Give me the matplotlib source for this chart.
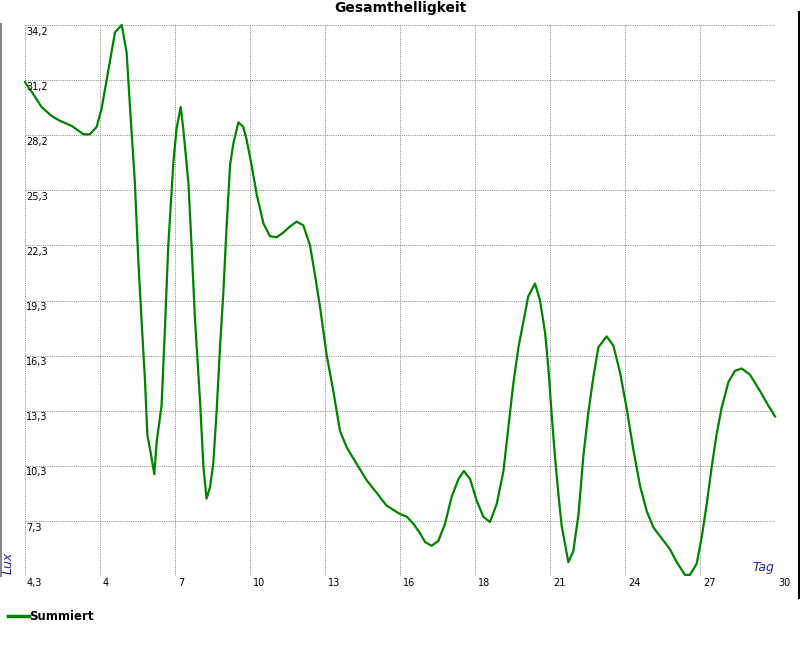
import numpy as np
import matplotlib
matplotlib.use("Agg")
import matplotlib.pyplot as plt
from matplotlib.lines import Line2D

day = [1.0, 1.32, 1.64, 2.03, 2.35, 2.80, 3.26, 3.51, 3.77, 3.96, 4.22, 4.48, 4.74,
       4.93, 5.06, 5.25, 5.38, 5.51, 5.64, 5.73, 5.86, 6.0, 6.09, 6.28, 6.41, 6.54,
       6.74, 6.86, 7.02, 7.12, 7.32, 7.44, 7.57, 7.77, 7.9, 8.02, 8.15, 8.28, 8.41,
       8.54, 8.67, 8.8, 8.93, 9.06, 9.25, 9.44, 9.57, 9.76, 9.96, 10.22, 10.47, 10.73,
       10.99, 11.25, 11.5, 11.76, 12.02, 12.21, 12.41, 12.66, 12.92, 13.18, 13.44,
       13.82, 14.21, 14.6, 14.98, 15.5, 15.76, 16.02, 16.27, 16.47, 16.72, 16.98,
       17.24, 17.5, 17.76, 17.97, 18.21, 18.46, 18.72, 18.98, 19.24, 19.5, 19.69,
       19.88, 20.08, 20.27, 20.46, 20.72, 20.91, 21.11, 21.24, 21.36, 21.49, 21.62,
       21.75, 21.88, 22.01, 22.2, 22.4, 22.59, 22.78, 22.98, 23.17, 23.49, 23.75,
       24.01, 24.27, 24.52, 24.78, 25.04, 25.3, 25.62, 25.94, 26.2, 26.52, 26.71,
       26.97, 27.17, 27.36, 27.55, 27.74, 27.94, 28.2, 28.45, 28.71, 29.03, 29.42,
       29.74, 30.0]
lux = [31.1, 30.45, 29.75, 29.26, 29.0, 28.73, 28.27, 28.27, 28.67, 29.65, 31.73, 33.8,
       34.2, 32.7, 29.75, 25.6, 21.45, 18.1, 14.9, 11.97, 10.98, 9.83, 11.57, 13.55,
       17.7, 22.24, 26.8, 28.57, 29.75, 28.57, 25.6, 22.24, 18.29, 13.75, 10.2, 8.5,
       9.1, 10.4, 13.25, 16.7, 19.7, 23.4, 26.6, 27.8, 28.92, 28.67, 27.97, 26.6, 25.0,
       23.43, 22.74, 22.68, 22.94, 23.27, 23.53, 23.33, 22.24, 20.66, 18.88, 16.32,
       14.34, 12.17, 11.28, 10.39, 9.5, 8.81, 8.12, 7.66, 7.52, 7.13, 6.63, 6.14, 5.94,
       6.2, 7.13, 8.61, 9.56, 10.0, 9.56, 8.41, 7.52, 7.23, 8.21, 10.0, 12.36, 14.73,
       16.71, 18.09, 19.48, 20.17, 19.28, 17.5, 15.53, 13.15, 10.8, 8.81, 7.03, 6.04,
       5.05, 5.64, 7.62, 10.8, 13.15, 15.13, 16.71, 17.3, 16.8, 15.33, 13.35, 11.18,
       9.2, 7.82, 6.93, 6.34, 5.75, 5.05, 4.36, 4.36, 4.96, 6.44, 8.21, 10.2, 11.97,
       13.45, 14.83, 15.43, 15.56, 15.23, 14.34, 13.55, 12.96]

x_labels = ["4", "7", "10", "13", "16", "18", "21", "24", "27", "30"]
y_labels = ["4,3", "7,3", "10,3", "13,3", "16,3", "19,3", "22,3", "25,3", "28,2",
            "31,2", "34,2"]

X_MIN, X_MAX = 1, 30
Y_MIN, Y_MAX = 4.3, 34.2
BLUE = "#2222a0"

fig = plt.figure(figsize=(8, 6.5), dpi=100)
ax = fig.add_axes([25 / 800, 74 / 650, 750 / 800, 551 / 650])

x_ticks = np.linspace(X_MIN, X_MAX, 11)
y_ticks = np.linspace(Y_MIN, Y_MAX, 11)
ax.set_xlim(X_MIN, X_MAX)
ax.set_ylim(Y_MIN, Y_MAX)
ax.set_xticks(x_ticks)
ax.set_yticks(y_ticks)
ax.tick_params(length=0, labelbottom=False, labelleft=False)
for s in ax.spines.values():
    s.set_visible(False)
ax.grid(True, color="#888888", linewidth=0.72, linestyle=(0, (1, 1.2)))

ax.plot(day, lux, color="green", linewidth=1.6, clip_on=False, label="Summiert")

# Achsenbeschriftungen: y-Werte unter der Gitterlinie, x-Werte rechts davon
for val, lab in zip(y_ticks, y_labels):
    ax.annotate(lab, xy=(0, val), xycoords=("axes fraction", "data"),
                xytext=(0.8, -1.2), textcoords="offset points",
                ha="left", va="top", fontsize=7)
for val, lab in zip(x_ticks[1:], x_labels):
    ax.annotate(lab, xy=(val, 0), xycoords=("data", "axes fraction"),
                xytext=(2.2, -1.2), textcoords="offset points",
                ha="left", va="top", fontsize=7)

fig.text(400 / 800, 1 - 8 / 650, "Gesamthelligkeit", ha="center", va="center",
         fontsize=10, fontweight="bold")
fig.text(8 / 800, 1 - 563 / 650, "Lux", rotation=90, ha="center", va="center",
         fontsize=9, style="italic", color=BLUE)
fig.text(774 / 800, 1 - 574 / 650, "Tag", ha="right", va="bottom",
         fontsize=9, style="italic", color=BLUE)

fig.legend(loc="center left", bbox_to_anchor=(8 / 800, 1 - 617 / 650),
           frameon=False, handlelength=1.75, handletextpad=0.0, borderpad=0,
           borderaxespad=0, prop={"weight": "bold", "size": 8.5})
for lh in fig.legends[0].get_lines():
    lh.set_linewidth(2.5)

# Rahmenlinien am Bildrand
fig.add_artist(Line2D([0.5 / 800, 0.5 / 800], [1 - 24 / 650, 1 - 576 / 650],
                      color="#888888", linewidth=1.5))
fig.add_artist(Line2D([799 / 800, 799 / 800], [1 - 12 / 650, 1 - 598 / 650],
                      color="black", linewidth=1.5))

fig.savefig("out.png", dpi=100)
